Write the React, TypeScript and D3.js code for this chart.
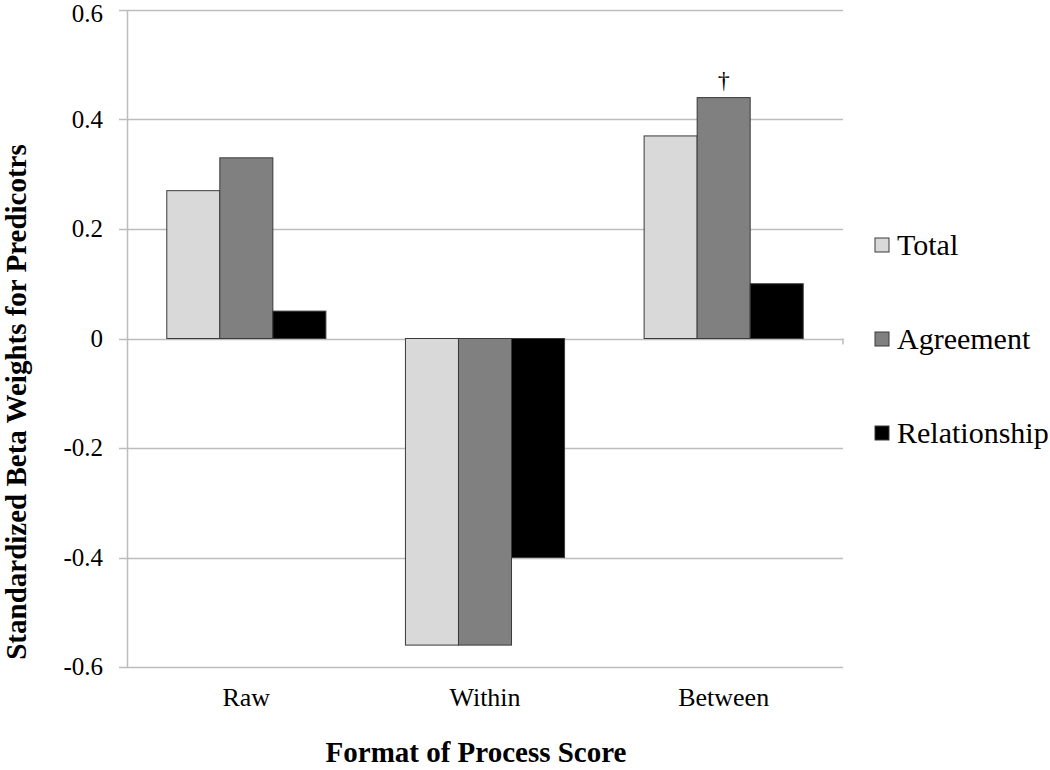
import React from "react";
import * as d3 from "d3";

const categories = ["Raw", "Within", "Between"];
const seriesNames = ["Total", "Agreement", "Relationship"];
const totalValues = [0.27, -0.56, 0.37];
const agreementValues = [0.33, -0.56, 0.44];
const relationshipValues = [0.05, -0.4, 0.1];
const yTicks = [0.6, 0.4, 0.2, 0, -0.2, -0.4, -0.6];
const seriesColors = ["#d9d9d9", "#808080", "#000000"];
const annotations = [{ category: "Between", series: "Agreement", text: "†" }];

const W = 1050;
const H = 770;
const left = 127;
const right = 843;
const top = 10;
const bottom = 667;
const font = "Liberation Serif, Times New Roman, Times, serif";

function fmtTick(t: number): string {
  if (t === 0) return "0";
  return d3.format(".1f")(t).replace("\u2212", "-");
}

export default function App() {
  const values = [totalValues, agreementValues, relationshipValues];
  const y = d3.scaleLinear().domain([-0.6, 0.6]).range([bottom, top]);
  const x0 = d3.scaleBand().domain(categories).range([left, right]).paddingInner(0).paddingOuter(0);
  const groupW = x0.bandwidth() * (159 / 238.5);
  const x1 = d3.scaleBand().domain(seriesNames).range([0, groupW]).padding(0);
  const groupOffset = (x0.bandwidth() - groupW) / 2;

  return (
    <svg width={W} height={H} style={{ position: "absolute", left: 0, top: 0, background: "#fff" }}>
      <rect x={0} y={0} width={W} height={H} fill="#fff" />
      {yTicks.map((t) => (
        <g key={t}>
          <line x1={left - 8} x2={right} y1={Math.round(y(t)) + 0.5} y2={Math.round(y(t)) + 0.5} stroke="#bdbdbd" strokeWidth={1.5} />
          <text x={103} y={Math.max(y(t), 14)} dy="0.33em" textAnchor="end" fontFamily={font} fontSize={25} fill="#000">
            {fmtTick(t)}
          </text>
        </g>
      ))}
      <line x1={left + 0.5} x2={left + 0.5} y1={top} y2={bottom} stroke="#bdbdbd" strokeWidth={1.5} />
      <line x1={right} x2={right} y1={y(0)} y2={y(0) + 6} stroke="#bdbdbd" strokeWidth={1.5} />
      {categories.map((c, ci) => (
        <g key={c}>
          {seriesNames.map((s, si) => {
            const v = values[si][ci];
            const bx = (x0(c) as number) + groupOffset + (x1(s) as number);
            const y0 = y(0);
            const yv = y(v);
            return (
              <rect
                key={s}
                x={bx}
                y={Math.min(y0, yv)}
                width={x1.bandwidth()}
                height={Math.abs(yv - y0)}
                fill={seriesColors[si]}
                stroke="#3a3a3a"
                strokeWidth={1}
              />
            );
          })}
          <text x={(x0(c) as number) + x0.bandwidth() / 2} y={706} textAnchor="middle" fontFamily={font} fontSize={26} fill="#000">
            {c}
          </text>
        </g>
      ))}
      {annotations.map((a) => {
        const ci = categories.indexOf(a.category);
        const si = seriesNames.indexOf(a.series);
        const cx = (x0(a.category) as number) + groupOffset + (x1(a.series) as number) + x1.bandwidth() / 2;
        return (
          <text key={a.text} x={cx} y={y(values[si][ci]) - 10} textAnchor="middle" fontFamily={font} fontSize={24} fill="#000">
            {a.text}
          </text>
        );
      })}
      {seriesNames.map((s, si) => {
        const ly = 245 + si * 94;
        return (
          <g key={s}>
            <rect x={875} y={ly - 7} width={14} height={14} fill={seriesColors[si]} stroke="#3a3a3a" strokeWidth={1} />
            <text x={897} y={ly + 10} fontFamily={font} fontSize={30} fill="#000">
              {s}
            </text>
          </g>
        );
      })}
      <text x={476} y={762} textAnchor="middle" fontFamily={font} fontSize={29} fontWeight="bold" fill="#000">
        Format of Process Score
      </text>
      <text
        transform={`translate(26, 402) rotate(-90)`}
        textAnchor="middle"
        fontFamily={font}
        fontSize={29}
        fontWeight="bold"
        fill="#000"
      >
        Standardized Beta Weights for Predicotrs
      </text>
    </svg>
  );
}
